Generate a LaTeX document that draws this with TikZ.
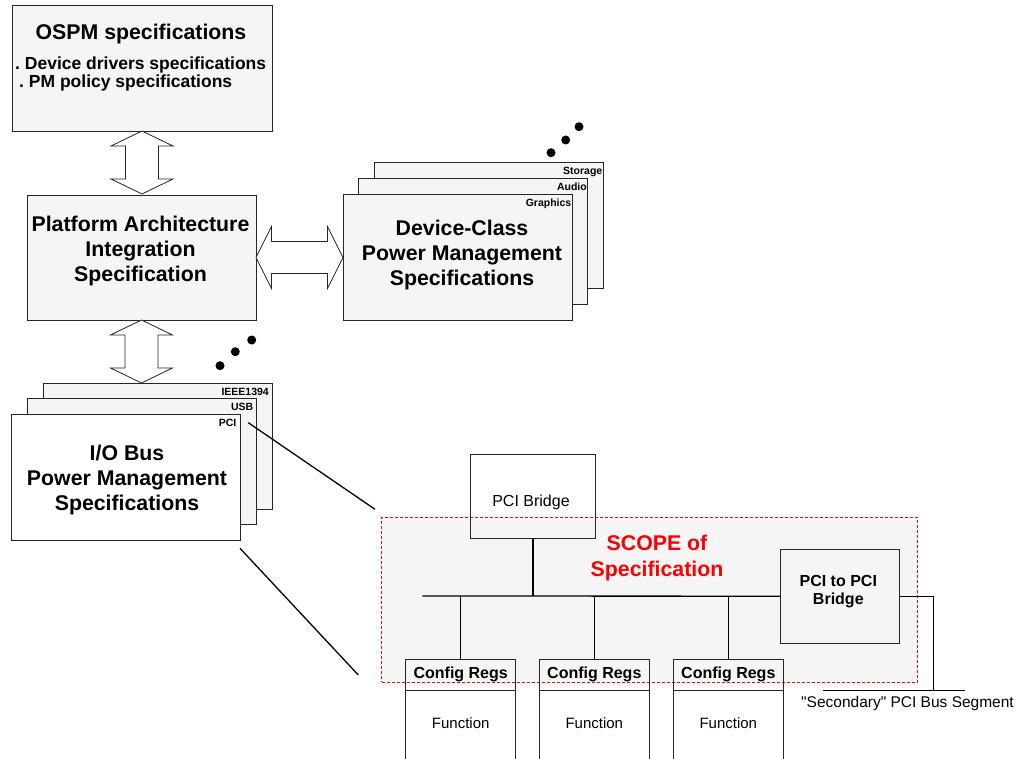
\documentclass[tikz,border=0pt]{standalone}
\usepackage{fontspec}
\setmainfont{Liberation Sans}
\usetikzlibrary{positioning}
\definecolor{boxgray}{HTML}{F5F5F5}
\definecolor{scopered}{HTML}{FF0000}
\frenchspacing

\begin{document}
\begin{tikzpicture}[x=1pt,y=-1pt,
	bigbox/.style={draw=black!85,line width=0.9pt,fill=boxgray,inner sep=0pt,outer sep=0pt,minimum width=229,minimum height=126},
	title/.style={font=\fontsize{21.3}{25}\selectfont\bfseries,align=center,inner sep=0pt},
	item/.style={font=\fontsize{17.5}{18.5}\selectfont\bfseries,inner sep=0pt,anchor=base west},
	tag/.style={font=\fontsize{10.5}{12}\selectfont\bfseries,inner sep=0pt,anchor=north east},
	dot/.style={circle,fill=black,inner sep=0pt,minimum size=9},
	hollow/.style={draw=black!85,line width=0.8pt,fill=white},
	wire/.style={line width=1.3pt},
	plainbox/.style={draw=black!85,line width=0.9pt,inner sep=0pt,outer sep=0pt},
	cfgbox/.style={plainbox,minimum width=110,minimum height=31.7,font=\fontsize{16}{18}\selectfont\bfseries},
	fnbox/.style={plainbox,minimum width=110,minimum height=90},
	plain/.style={font=\fontsize{15.5}{18}\selectfont,inner sep=0pt},
	scopebox/.style={fill=boxgray,draw=scopered,line width=0.7pt,dash pattern=on 3pt off 2pt,inner sep=0pt,minimum width=535.6,minimum height=165}]
	\useasboundingbox (0,0) rectangle (1019,759);

	\node[bigbox,minimum width=260] (ospm) at (142,68) {};
	\node[title] (ospmtitle) at (141,33.8) {OSPM specifications};
	\node[item] (ospmdrivers) at (15,69.6) {. Device drivers specifications};
	\node[item] (ospmpolicy) at (19,88) {. PM policy specifications};

	\node[bigbox,minimum height=125] (pai) at (141.5,257.5) {};
	\node[title] (paititle) at (140.5,251) {Platform Architecture\\Integration\\Specification};

	\node[bigbox] (devstorage) at (488.5,225) {};
	\node[bigbox] (devaudio) at (473,241) {};
	\node[bigbox] (devgraphics) at (457.5,257) {};
	\node[tag] (storage) at ([xshift=-0.5pt,yshift=-4.5pt]devstorage.north east) {Storage};
	\node[tag] (audio) at ([xshift=-0.5pt,yshift=-4.5pt]devaudio.north east) {Audio};
	\node[tag] (graphics) at ([xshift=-0.5pt,yshift=-4.5pt]devgraphics.north east) {Graphics};
	\node[title] (devtitle) at (462,254.7) {Device-Class\\Power Management\\Specifications};
	\foreach \i/\x/\y in {1/551/152.7, 2/565.7/140, 3/579/126.7}
	\node[dot] (devdot\i) at (\x,\y) {};

	\node[bigbox] (ioieee) at (157.5,446) {};
	\node[bigbox] (iousb) at (142,461.5) {};
	\node[bigbox,fill=white] (iopci) at (126,477.5) {};
	\node[tag] (ieee) at ([xshift=-3pt,yshift=-4.5pt]ioieee.north east) {IEEE1394};
	\node[tag] (usb) at ([xshift=-3pt,yshift=-4.5pt]iousb.north east) {USB};
	\node[tag] (pci) at ([xshift=-4pt,yshift=-4.5pt]iopci.north east) {PCI};
	\node[title] (iotitle) at (127,480.3) {I/O Bus\\Power Management\\Specifications};
	\foreach \i/\x/\y in {1/220/365.7, 2/235.3/351.7, 3/251.7/340}
	\node[dot] (iodot\i) at (\x,\y) {};

	\foreach \a in {ospm, pai}
	\draw[hollow] (\a.south) -- ++(31,15) -- ++(-14.5,0) -- ++(0,33) -- ++(14.5,0) -- ++(-31,15)
		-- ++(-31,-15) -- ++(14.5,0) -- ++(0,-33) -- ++(-14.5,0) -- cycle;
	\draw[hollow] (pai.east) -- ++(15.5,-31) -- ++(0,15) -- ++(56,0) -- ++(0,-15) -- ++(15.5,31)
		-- ++(-15.5,31) -- ++(0,-15) -- ++(-56,0) -- ++(0,15) -- cycle;

	\node[scopebox] (scope) at (649.5,599.8) {};
	\node[title,text=scopered,font=\fontsize{21.3}{25.5}\selectfont\bfseries] (scopetitle) at (657,558) {SCOPE of\\Specification};

	\node[plainbox,minimum width=125.7,minimum height=84] (pcibridge) at (533,496.3) {};
	\node[plain,font=\fontsize{16}{18}\selectfont] (pcibridgetext) at (531,502.6) {PCI Bridge};
	\node[plainbox,minimum width=118.6,minimum height=94.3] (p2p) at (840,596.2) {};
	\node[align=center,inner sep=0pt,font=\fontsize{16}{18.3}\selectfont\bfseries] (p2ptext) at (838.3,591.75) {PCI to PCI\\Bridge};

	\coordinate (busleft) at (422.3,596);
	\draw[wire] (busleft) -- (p2p.west);
	\draw[wire] (pcibridge.south) -- (pcibridge.south |- busleft);
	\foreach \i/\x in {1/460.7, 2/594.3, 3/728.3}
	{
	\node[cfgbox] (cfg\i) at (\x,674.85) {Config Regs};
	\node[fnbox,below=0pt of cfg\i] (fn\i) {};
	\node[plain,font=\fontsize{15}{18}\selectfont] (fntext\i) at (\x,723.5) {Function};
	\draw[wire] (cfg\i.north) -- (cfg\i.north |- busleft);
	}

	\coordinate (secturn) at (933.3,690.7);
	\coordinate (secleft) at (822.7,690.7);
	\coordinate (secright) at (965,690.7);
	\draw[wire] (p2p.east) -| (secturn);
	\draw[wire] (secleft) -- (secright);
	\node[plain] (seclabel) at (907.5,703.9) {\textquotedbl Secondary\textquotedbl{} PCI Bus Segment};

	\coordinate (leadtopa) at (248.3,422.7);
	\coordinate (leadtopb) at (375,509.3);
	\coordinate (leadbota) at (240,548.3);
	\coordinate (leadbotb) at (358.3,675);
	\draw[wire] (leadtopa) -- (leadtopb);
	\draw[wire] (leadbota) -- (leadbotb);
\end{tikzpicture}
\end{document}
